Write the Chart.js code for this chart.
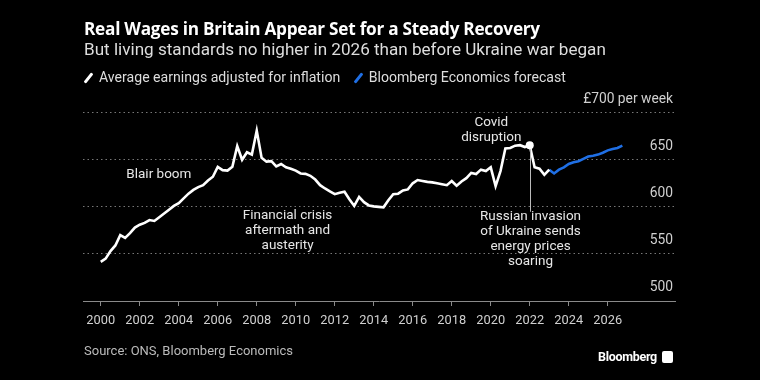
<!DOCTYPE html>
<html>
<head>
<meta charset="utf-8">
<script src="https://cdn.jsdelivr.net/npm/chart.js@4.4.1/dist/chart.umd.min.js"></script>
<style>
  html, body { margin: 0; padding: 0; background: #000; }
  #wrap { position: relative; width: 760px; height: 380px; background: #000; overflow: hidden; font-family: Roboto, "Noto Sans", sans-serif; }
  canvas { position: absolute; left: 0; top: 0; }
  .txt { position: absolute; white-space: nowrap; }
  #title { left: 84px; top: 18px; font-family: "Open Sans", Roboto, sans-serif; font-size: 17.2px; line-height: 22px; font-weight: 700; color: #fff; letter-spacing: -0.25px; }
  #subtitle { left: 84px; top: 39px; font-size: 17.1px; line-height: 20px; color: #ddd; }
  #legend { left: 84px; top: 69px; font-size: 14.1px; line-height: 17px; color: #ddd; }
  .item { display: inline-block; margin-right: 10px; }
  .swatch { display: inline-block; width: 3px; height: 12px; border-radius: 1px; transform: rotate(38deg); vertical-align: -2px; margin: 0 9px 0 3px; }
  #source { left: 84px; top: 343px; font-size: 13px; line-height: 16px; color: #bbb; }
  #logo { left: 598px; top: 349px; font-size: 12.5px; line-height: 15px; font-weight: 700; color: #fff; letter-spacing: -0.3px; }
  #logo span { display: inline-block; width: 11px; height: 12px; background: #fff; border-radius: 2px; margin-left: 5px; vertical-align: -2px; }
</style>
</head>
<body>
<div id="wrap">
  <canvas id="chart" width="760" height="380"></canvas>
  <div class="txt" id="title">Real Wages in Britain Appear Set for a Steady Recovery</div>
  <div class="txt" id="subtitle">But living standards no higher in 2026 than before Ukraine war began</div>
  <div class="txt" id="legend">
    <span class="item"><span class="swatch" style="background:#fff"></span>Average earnings adjusted for inflation</span>
    <span class="item"><span class="swatch" style="background:#1f6fe5"></span>Bloomberg Economics forecast</span>
  </div>
  <div class="txt" id="source">Source: ONS, Bloomberg Economics</div>
  <div class="txt" id="logo">Bloomberg<span></span></div>
</div>
<script>
// quarterly series, first value = Q1 of the start year
const actualStart = 2000;
const forecastStart = 2023;

const actualValues = [
  541.5, 545, 553, 559,
  570, 567, 572, 578,
  581, 583, 586, 585,
  589, 593, 597, 601,
  604, 609, 614, 618,
  621, 623, 628, 632,
  642.5, 639, 638.5, 642.5,
  664.5, 650, 658, 655.5,
  681, 652, 648, 648.5,
  643, 645.5, 642, 640.5,
  638.5, 635.5, 635, 633,
  629, 623, 619.5, 616.5,
  613.5, 615, 616, 608,
  601, 610.5, 605, 601.5,
  600.5, 600, 599.5, 607,
  613.5, 614, 617.5, 618.5,
  625, 628.5, 627.5, 626.5,
  626, 625, 624, 623,
  627.5, 622.5, 627, 630.5,
  636, 634.8, 639.5, 638,
  642, 622, 638, 662,
  662.5, 665, 665.5, 663.5,
  665.5, 642, 640.5, 634,
  639.5
];

const forecastValues = [
  639.5, 635.5, 639.5, 642,
  645.5, 647.3, 648.5, 651,
  653.5, 654.3, 655.5, 657.5,
  660, 661.4, 662.5, 665
];

const xTickYears = [2000, 2002, 2004, 2006, 2008, 2010, 2012, 2014, 2016, 2018, 2020, 2022, 2024, 2026];
const yTickValues = [500, 550, 600, 650, 700];

// 2022 Q1, the marked point before the invasion
const covidIndex = 88;

const notes = [
  { lines: ["Blair boom"], x: 2002.98, y: 634.5 },
  { lines: ["Financial crisis", "aftermath and", "austerity"], x: 2009.58, y: 590.2 },
  { lines: ["Covid", "disruption"], x: 2020.03, y: 689.7 },
  { lines: ["Russian invasion", "of Ukraine sends", "energy prices", "soaring"], x: 2022.04, y: 589.5 }
];

const toPoints = (start, values) => values.map((v, i) => ({ x: start + i / 4, y: v }));

const annotationPlugin = {
  id: "notes",
  afterDatasetsDraw(chart) {
    const { ctx, scales: { x, y } } = chart;
    ctx.save();
    // leader line from the covid point down to the invasion note
    ctx.strokeStyle = "#bbb";
    ctx.lineWidth = 1;
    ctx.beginPath();
    const lx = Math.round(x.getPixelForValue(2022)) + 0.5;
    ctx.moveTo(lx, y.getPixelForValue(actualValues[covidIndex]) + 4);
    ctx.lineTo(lx, y.getPixelForValue(594.8));
    ctx.stroke();

    ctx.fillStyle = "#e6e6e6";
    ctx.font = "13.5px Roboto, 'Noto Sans', sans-serif";
    ctx.textAlign = "center";
    ctx.textBaseline = "middle";
    notes.forEach(n => {
      const px = x.getPixelForValue(n.x);
      const py = y.getPixelForValue(n.y);
      n.lines.forEach((t, i) => ctx.fillText(t, px, py + i * 15));
    });
    ctx.restore();
  }
};

new Chart(document.getElementById("chart"), {
  type: "line",
  data: {
    datasets: [
      {
        label: "Average earnings adjusted for inflation",
        data: toPoints(actualStart, actualValues),
        borderColor: "#fff",
        borderWidth: 2.6,
        pointRadius: c => (c.dataIndex === covidIndex ? 4 : 0),
        pointBackgroundColor: "#fff",
        pointBorderWidth: 0,
        tension: 0
      },
      {
        label: "Bloomberg Economics forecast",
        data: toPoints(forecastStart, forecastValues),
        borderColor: "#1f6fe5",
        borderWidth: 2.6,
        pointRadius: 0,
        tension: 0
      }
    ]
  },
  options: {
    responsive: false,
    animation: false,
    layout: { padding: { left: 83, right: 85, top: 112.7, bottom: 0 } },
    plugins: { legend: { display: false }, tooltip: { enabled: false } },
    scales: {
      x: {
        type: "linear",
        min: 1999.09,
        max: 2029.45,
        afterBuildTicks: s => { s.ticks = xTickYears.map(v => ({ value: v })); },
        afterFit: s => { s.height = 79; },
        grid: { drawOnChartArea: false, drawTicks: true, tickLength: 5, color: "#8a8a8a" },
        border: { display: true, color: "#8a8a8a", width: 1 },
        ticks: {
          color: "#d0d0d0",
          font: { family: "Roboto, 'Noto Sans', sans-serif", size: 12.8 },
          padding: 7,
          maxRotation: 0,
          autoSkip: false,
          callback: v => String(v)
        }
      },
      y: {
        position: "right",
        min: 500,
        max: 700,
        afterBuildTicks: s => { s.ticks = yTickValues.map(v => ({ value: v })); },
        afterFit: s => { s.width = 0; },
        grid: {
          color: c => (c.tick && c.tick.value === 500 ? "rgba(0,0,0,0)" : "#777"),
          drawTicks: false,
          lineWidth: 1
        },
        border: { display: false, dash: [1.5, 3] },
        ticks: {
          mirror: true,
          padding: -2,
          labelOffset: -13,
          color: "#d0d0d0",
          font: { family: "Roboto, 'Noto Sans', sans-serif", size: 13.8 },
          callback: v => (v === 700 ? "£700 per week" : String(v))
        }
      }
    }
  },
  plugins: [annotationPlugin]
});
</script>
</body>
</html>
